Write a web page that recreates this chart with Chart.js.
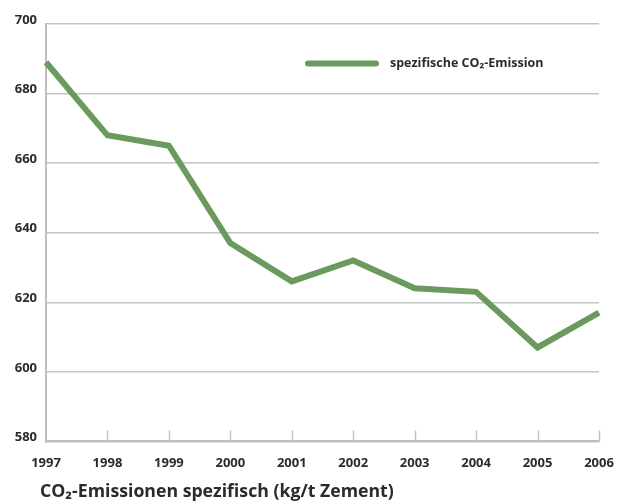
<!DOCTYPE html>
<html>
<head>
<meta charset="utf-8">
<script src="https://cdn.jsdelivr.net/npm/chart.js@4/dist/chart.umd.min.js"></script>
<style>
  html, body { margin: 0; padding: 0; background: #ffffff; }
  canvas { display: block; }
</style>
</head>
<body>
<canvas id="chart" width="622" height="504"></canvas>
<script>
// Specific CO2 emission per tonne of cement, 1997–2006
const years = ['1997', '1998', '1999', '2000', '2001', '2002', '2003', '2004', '2005', '2006'];
const emission = [689, 668, 665, 637, 626, 632, 624, 623, 607, 617];
const yTicks = [580, 600, 620, 640, 660, 680, 700];
const seriesLabel = 'spezifische CO\u2082-Emission';
const chartTitle = 'CO\u2082-Emissionen spezifisch (kg/t Zement)';

const FONT = '"Open Sans", "Liberation Sans", sans-serif';
const TEXT = '#2b2b2b';
const GRID = '#c4c4c4';
const GREEN = '#6a9a5e';

// small tick marks that point up into the plot from the x axis
const innerTicks = {
  id: 'innerTicks',
  beforeDatasetsDraw(chart) {
    const x = chart.scales.x, area = chart.chartArea, ctx = chart.ctx;
    ctx.save();
    ctx.strokeStyle = GRID;
    ctx.lineWidth = 1.5;
    for (let i = 1; i < x.ticks.length; i++) {
      const px = Math.round(x.getPixelForTick(i)) + 0.5;
      ctx.beginPath();
      ctx.moveTo(px, area.bottom);
      ctx.lineTo(px, area.bottom - 11);
      ctx.stroke();
    }
    ctx.restore();
  }
};

// legend line + label in the upper right of the plot, and the caption below
const annotations = {
  id: 'annotations',
  afterDraw(chart) {
    const ctx = chart.ctx, ds = chart.data.datasets[0];
    ctx.save();
    ctx.strokeStyle = ds.borderColor;
    ctx.lineWidth = ds.borderWidth;
    ctx.lineCap = 'round';
    ctx.beginPath();
    ctx.moveTo(308, 63.5);
    ctx.lineTo(376, 63.5);
    ctx.stroke();
    ctx.fillStyle = TEXT;
    ctx.textBaseline = 'middle';
    ctx.textAlign = 'left';
    ctx.font = 'bold 12.5px ' + FONT;
    ctx.fillText(ds.label, 390, 63);
    ctx.font = 'bold 17.7px ' + FONT;
    ctx.fillText(chartTitle, 40, 492);
    ctx.restore();
  }
};

new Chart(document.getElementById('chart'), {
  type: 'line',
  data: {
    labels: years,
    datasets: [{
      label: seriesLabel,
      data: emission,
      borderColor: GREEN,
      borderWidth: 6,
      pointRadius: 0,
      fill: false,
      tension: 0,
      borderJoinStyle: 'miter'
    }]
  },
  options: {
    responsive: false,
    animation: false,
    layout: { padding: { top: 24, right: 23, bottom: 19, left: 0 } },
    plugins: {
      legend: { display: false },
      title: { display: false },
      tooltip: { enabled: false }
    },
    scales: {
      x: {
        offset: false,
        afterFit(scale) { scale.paddingLeft = 0; scale.paddingRight = 0; },
        grid: { display: true, drawOnChartArea: false, drawTicks: false },
        border: { display: true, color: '#bdbdbd', width: 2 },
        ticks: {
          color: TEXT,
          font: { family: FONT, size: 13, weight: 'bold' },
          padding: 14,
          maxRotation: 0,
          autoSkip: false
        }
      },
      y: {
        min: yTicks[0],
        max: yTicks[yTicks.length - 1],
        afterBuildTicks(scale) { scale.ticks = yTicks.map(v => ({ value: v })); },
        afterFit(scale) { scale.width = 46; },
        grid: { color: GRID, lineWidth: 1.5, drawTicks: false },
        border: { display: true, color: '#bdbdbd', width: 2 },
        ticks: {
          color: TEXT,
          font: { family: FONT, size: 13, weight: 'bold' },
          padding: 9,
          labelOffset: -4
        }
      }
    }
  },
  plugins: [innerTicks, annotations]
});
</script>
</body>
</html>
